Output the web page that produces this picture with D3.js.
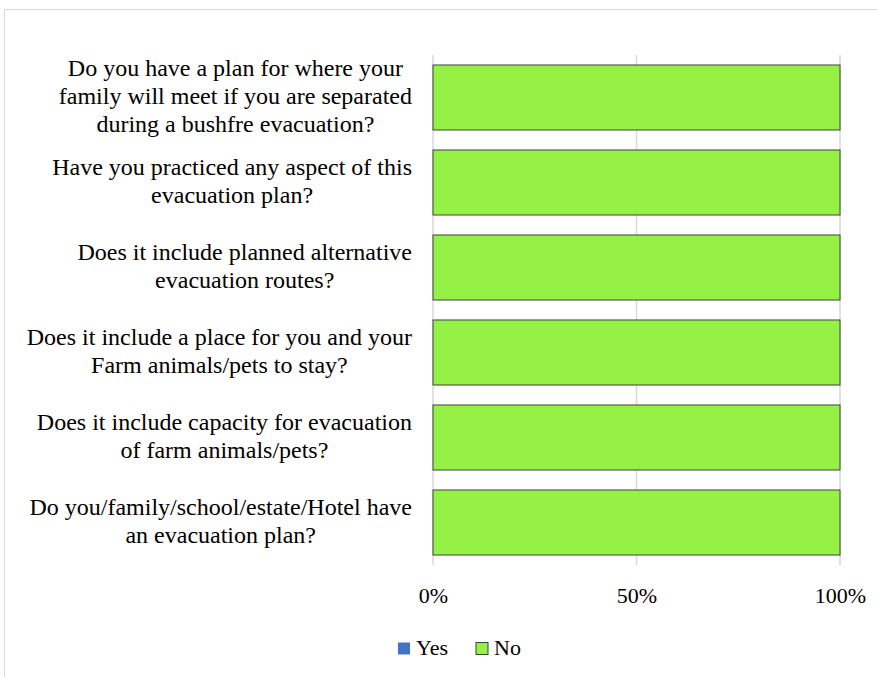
<!DOCTYPE html>
<html>
<head>
<meta charset="utf-8" />
<title>Evacuation plan survey</title>
<script src="https://cdn.jsdelivr.net/npm/d3@7"></script>
<style>
  body { margin: 0; background: #fff; }
</style>
</head>
<body>
<svg id="chart" width="877" height="677"></svg>
<script>
// categories, top to bottom
var questions = [
  ["Do you have a plan for where your", "family will meet if you are separated", "during a bushfre evacuation?"],
  ["Have you practiced any aspect of this", "evacuation plan?"],
  ["Does it include planned alternative", "evacuation routes?"],
  ["Does it include a place for you and your", "Farm animals/pets to stay?"],
  ["Does it include capacity for evacuation", "of farm animals/pets?"],
  ["Do you/family/school/estate/Hotel have", "an evacuation plan?"]
];
var yesValues = [0, 0, 0, 0, 0, 0];
var noValues = [100, 100, 100, 100, 100, 100];
var seriesNames = ["Yes", "No"];
var seriesColors = ["#4472c4", "#95f244"];
var tickValues = [0, 50, 100];

var FONT = "'Liberation Serif', 'Times New Roman', serif";
var svg = d3.select("#chart");
var margin = {top: 55, left: 433, right: 37, bottom: 112};
var width = 877 - margin.left - margin.right,
    height = 677 - margin.top - margin.bottom;

// outer frame
svg.append("rect")
   .attr("x", 4.5).attr("y", 9.5)
   .attr("width", 900).attr("height", 700)
   .attr("fill", "none").attr("stroke", "#d9d9d9").attr("stroke-width", 1);

var g = svg.append("g").attr("transform", "translate(" + margin.left + "," + margin.top + ")");

var x = d3.scaleLinear().domain([0, 100]).range([0, width]);
var y = d3.scaleBand().domain(d3.range(questions.length)).range([0, height]).paddingInner(0.235).paddingOuter(0.1175);

// gridlines
g.selectAll(".grid").data(tickValues).enter().append("line")
  .attr("x1", function(d) { return x(d); }).attr("x2", function(d) { return x(d); })
  .attr("y1", 0).attr("y2", height)
  .attr("stroke", "#d9d9d9").attr("stroke-width", 1.5);

// stacked series
var rows = questions.map(function(q, i) { return {i: i, Yes: yesValues[i], No: noValues[i]}; });
var stack = d3.stack().keys(seriesNames)(rows);

g.selectAll(".series").data(stack).enter().append("g")
  .attr("fill", function(d, i) { return seriesColors[i]; })
  .selectAll("rect").data(function(d) { return d.filter(function(p) { return p[1] - p[0] > 0; }); })
  .enter().append("rect")
  .attr("x", function(d) { return x(d[0]); })
  .attr("width", function(d) { return x(d[1]) - x(d[0]); })
  .attr("y", function(d) { return y(d.data.i); })
  .attr("height", y.bandwidth())
  .attr("stroke", "#404040").attr("stroke-width", 1);

// x axis labels
var xAxis = g.append("g").attr("transform", "translate(0," + height + ")")
  .call(d3.axisBottom(x).tickValues(tickValues).tickSize(0).tickPadding(22).tickFormat(function(d) { return d + "%"; }));
xAxis.select(".domain").remove();
xAxis.attr("font-family", FONT).attr("font-size", 22);
xAxis.selectAll("text").attr("fill", "#000");

// category labels: block right-aligned, lines centred within block
var lineH = 28, rightEdge = -21;
var labels = g.selectAll(".cat").data(questions).enter().append("text")
  .attr("font-family", FONT).attr("font-size", 24).attr("fill", "#000")
  .attr("text-anchor", "middle")
  .attr("transform", function(d, i) { return "translate(0," + (y(i) + y.bandwidth() / 2) + ")"; });
labels.selectAll("tspan").data(function(d) { return d.map(function(t, k) { return {t: t, k: k, n: d.length}; }); })
  .enter().append("tspan")
  .attr("y", function(d) { return (d.k - (d.n - 1) / 2) * lineH + 6.5; })
  .text(function(d) { return d.t; });
labels.each(function() {
  var maxW = 0;
  d3.select(this).selectAll("tspan").each(function() { maxW = Math.max(maxW, this.getComputedTextLength()); });
  d3.select(this).selectAll("tspan").attr("x", rightEdge - maxW / 2);
});

// legend
var legend = svg.append("g").attr("transform", "translate(398,648)");
var legendX = [0, 78];
seriesNames.forEach(function(name, i) {
  var it = legend.append("g").attr("transform", "translate(" + legendX[i] + ",0)");
  it.append("rect").attr("x", 0).attr("y", -5.5).attr("width", 12).attr("height", 12)
    .attr("fill", seriesColors[i])
    .attr("stroke", i === 1 ? "#404040" : "none");
  it.append("text").attr("x", 18).attr("y", 7)
    .attr("font-family", FONT).attr("font-size", 22).attr("fill", "#000").text(name);
});
</script>
</body>
</html>
